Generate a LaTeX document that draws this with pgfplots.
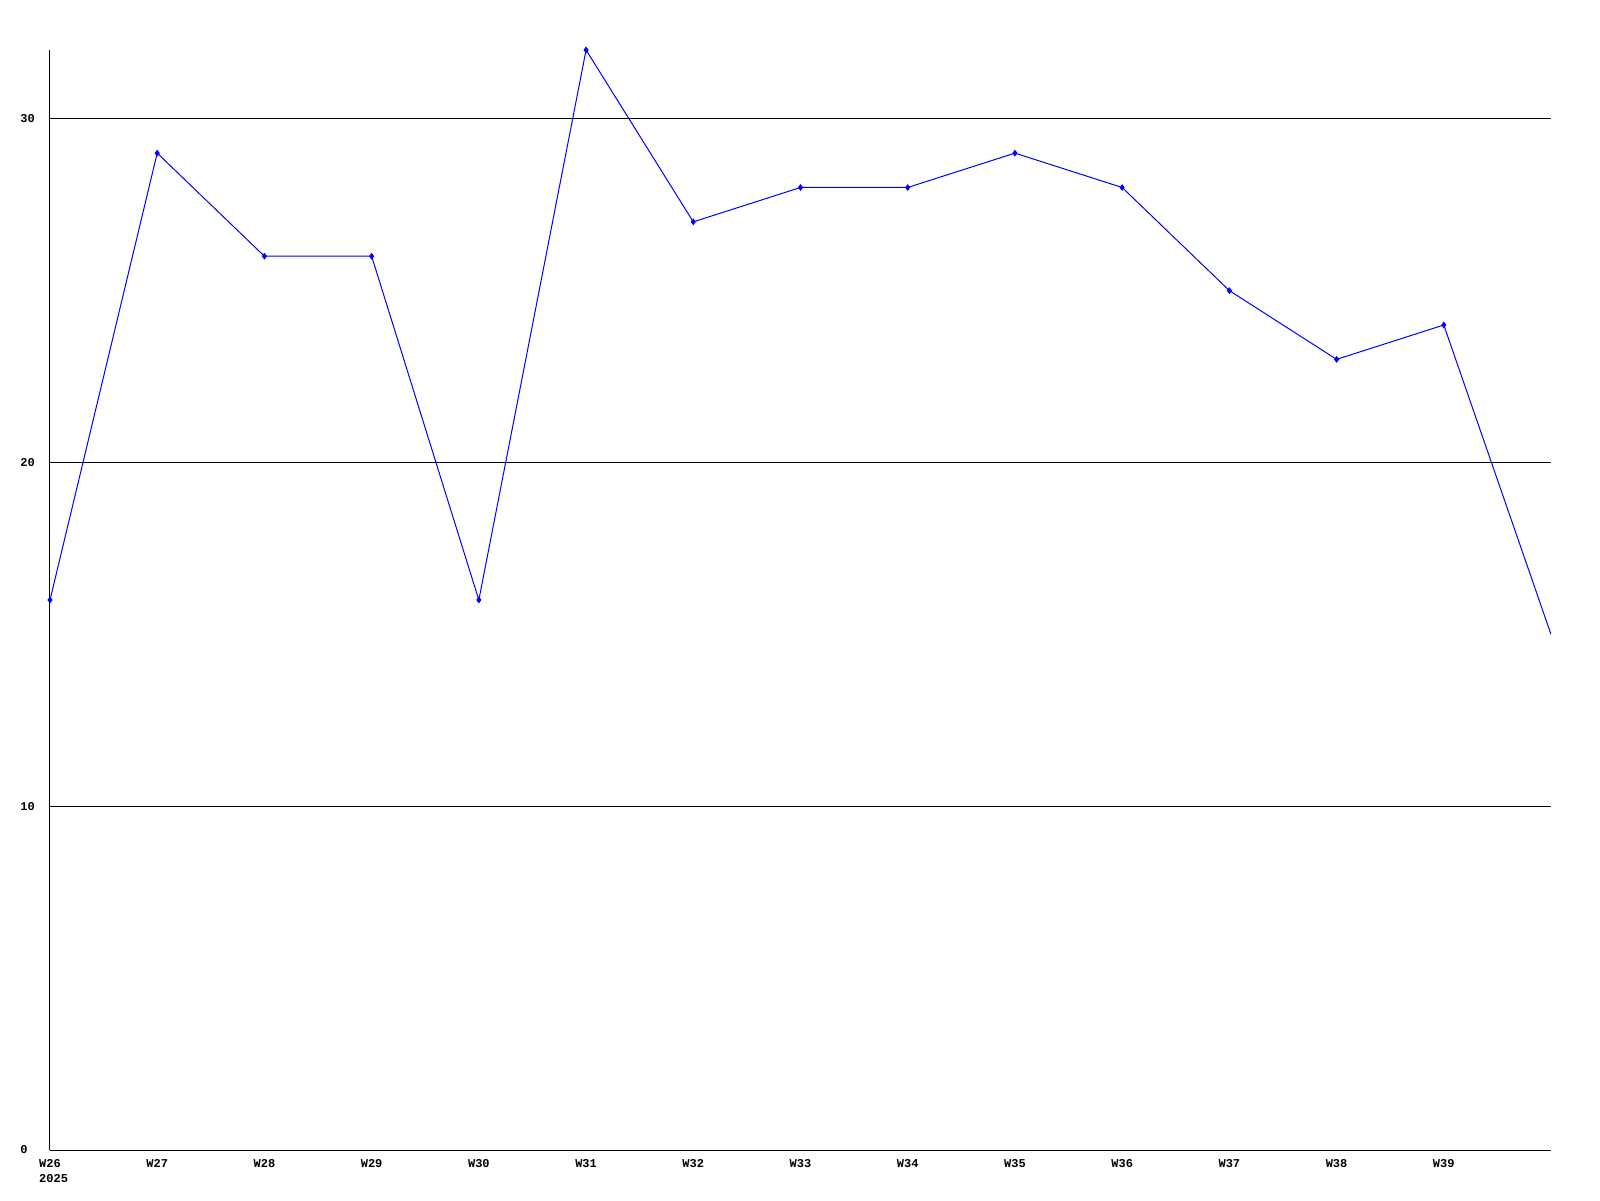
\documentclass[border=0pt]{standalone}
\usepackage{fontspec}
\setmainfont{Liberation Mono}
\usepackage{pgfplots}
\pgfplotsset{compat=1.18}
\begin{document}
\begin{tikzpicture}
\useasboundingbox (-25pt,-25pt) rectangle (775pt,575pt);
\begin{axis}[
  at={(0,0)}, anchor=south west,
  scale only axis, width=750.5pt, height=550pt,
  xmin=0, xmax=14, ymin=0, ymax=32,
  axis x line=bottom, axis y line=left,
  axis line style={-, black, line width=0.5pt},
  major tick length=0pt,
  ytick={0,10,20,30},
  ymajorgrids, grid style={black, line width=0.5pt},
  xtick={0,...,13},
  xticklabels={{W26\\\rlap{2025}\phantom{W26}},W27,W28,W29,W30,W31,W32,W33,W34,W35,W36,W37,W38,W39},
  /pgf/number format/assume math mode=true,
  tick label style={font=\fontsize{6}{7.5}\selectfont\bfseries},
  xticklabel style={align=center, yshift=-1pt},
  yticklabel style={anchor=west, inner xsep=0pt, xshift=-15pt},
  clip=true,
]
\addplot[color={rgb,255:red,0;green,0;blue,255}, line width=0.5pt, mark=diamond*, mark size=1.3pt, mark indices={1,...,14}] coordinates {
(0,16) (1,29) (2,26) (3,26) (4,16) (5,32) (6,27) (7,28) (8,28) (9,29) (10,28) (11,25) (12,23) (13,24) (14,15)
};
\end{axis}
\end{tikzpicture}
\end{document}
